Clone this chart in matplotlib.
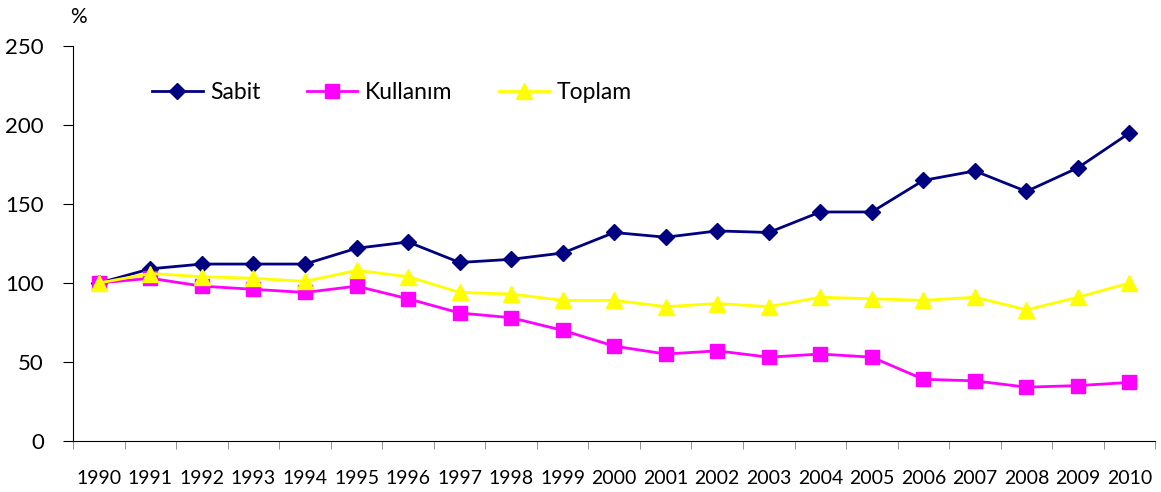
import numpy as np
import matplotlib.pyplot as plt

plt.rcParams['font.family'] = ['Lato', 'DejaVu Sans']

# veriler
years = [str(y) for y in range(1990, 2011)]
sabit = [100, 109, 112, 112, 112, 122, 126, 113, 115, 119, 132, 129, 133, 132, 145, 145, 165, 171, 158, 173, 195]
kullanim = [100, 103, 98, 96, 94, 98, 90, 81, 78, 70, 60, 55, 57, 53, 55, 53, 39, 38, 34, 35, 37]
toplam = [100, 106, 104, 103, 101, 108, 104, 94, 93, 89, 89, 85, 87, 85, 91, 90, 89, 91, 83, 91, 100]

fig = plt.figure(figsize=(11.61, 4.92), dpi=100)
ax = fig.add_axes([0.063, 0.104, 0.932, 0.802])

x = np.arange(len(years))
ax.plot(x, sabit, color='#000080', lw=2, marker='D', ms=8, label='Sabit')
ax.plot(x, kullanim, color='#FF00FF', lw=2, marker='s', ms=10, label='Kullanım')
ax.plot(x, toplam, color='#FFFF00', lw=2, marker='^', ms=11, label='Toplam')

ax.set_xlim(-0.5, len(years) - 0.5)
ax.set_ylim(0, 250)
ax.set_yticks(range(0, 251, 50))
ax.tick_params(axis='y', labelsize=16, length=7, direction='out', pad=14)

ax.set_xticks(x)
ax.set_xticklabels(years)
ax.set_xticks(np.arange(-0.5, len(years)), minor=True)
ax.tick_params(axis='x', which='major', length=0, labelsize=14, pad=21)
ax.tick_params(axis='x', which='minor', length=6, color='#808080')

for s in ['top', 'right']:
    ax.spines[s].set_visible(False)

fig.text(0.06, 0.965, '%', fontsize=15, ha='left', va='center')

ax.legend(loc='upper left', bbox_to_anchor=(0.054, 0.962), ncol=3, frameon=False,
          fontsize=16.5, handlelength=2.2, columnspacing=2.0, handletextpad=0.35)

fig.savefig('out.png')
